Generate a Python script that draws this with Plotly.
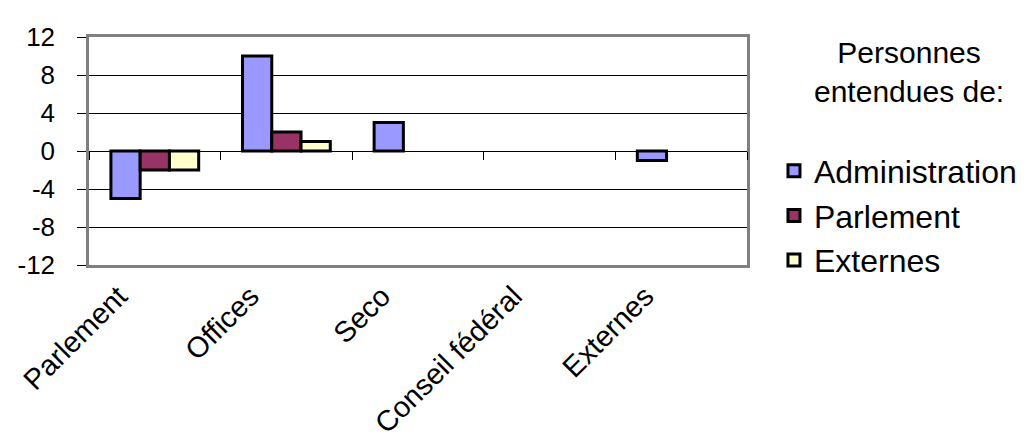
import plotly.graph_objects as go

categories = ["Parlement", "Offices", "Seco", "Conseil fédéral", "Externes"]
administration = [-5, 10, 3, 0, -1]
parlement = [-2, 2, 0, 0, 0]
externes = [-2, 1, 0, 0, 0]
series_names = ["Administration", "Parlement", "Externes"]
series_colors = ["#9999FF", "#993366", "#FFFFCC"]
y_ticks = [-12, -8, -4, 0, 4, 8, 12]
legend_title = "Personnes<br>entendues de:"

FONT = "Liberation Sans, Arial, sans-serif"
FS = 32
FS_T = 30
FS_X = 29
FS_Y = 26

fig = go.Figure()
for name, vals, col in zip(series_names, [administration, parlement, externes], series_colors):
    fig.add_trace(go.Bar(
        x=list(range(len(categories))), y=vals, name=name,
        marker=dict(color=col, line=dict(color="black",
                                         width=[0 if v == 0 else 3 for v in vals])),
        legendgroup=name,
    ))

fig.update_layout(
    width=1029, height=444,
    margin=dict(l=81, r=290, t=29, b=187, autoexpand=False),
    paper_bgcolor="white", plot_bgcolor="white",
    barmode="group", bargap=0.333, bargroupgap=0,
    font=dict(family=FONT, size=FS, color="black"),
    showlegend=True,
    legend=dict(x=1.041, xanchor="left", y=0.533, yanchor="top",
                font=dict(family=FONT, size=FS, color="black"),
                tracegroupgap=0, itemclick=False, bgcolor="rgba(0,0,0,0)"),
    xaxis=dict(
        range=[-0.5, 4.5], tickmode="array",
        tickvals=list(range(len(categories))), ticktext=categories,
        tickangle=-45, ticks="", showgrid=False, zeroline=False,
        showline=True, linecolor="#808080", linewidth=2.5, mirror=True,
        tickfont=dict(family=FONT, size=FS_X, color="black"),
        ticklabelshift=-36, ticklabeloverflow="allow",
    ),
    xaxis2=dict(
        overlaying="x", anchor="free", position=0.5, side="bottom",
        range=[-0.5, 4.5], tickmode="array",
        tickvals=[k - 0.5 for k in range(len(categories) + 1)],
        ticks="outside", ticklen=8, tickcolor="black", tickwidth=1,
        showticklabels=False, showgrid=False, zeroline=False, showline=False,
    ),
    yaxis=dict(
        range=[-12, 12], tickmode="array", tickvals=y_ticks,
        ticktext=[str(v) for v in y_ticks],
        ticks="outside", ticklen=9, tickcolor="black", tickwidth=1,
        showgrid=True, gridcolor="black", gridwidth=1,
        zeroline=True, zerolinecolor="black", zerolinewidth=1,
        showline=True, linecolor="#808080", linewidth=2.5, mirror=True,
        tickfont=dict(family=FONT, size=FS_Y, color="black"),
        ticklabelstandoff=17,
    ),
)

fig.add_trace(go.Scatter(x=[0], y=[0], xaxis="x2", mode="markers",
                         marker=dict(opacity=0), showlegend=False, hoverinfo="skip"))

fig.add_annotation(text=legend_title, xref="paper", yref="paper",
                   x=1.246, y=0.847, xanchor="center", yanchor="middle",
                   showarrow=False, font=dict(family=FONT, size=FS_T, color="black"))

fig.write_html("out.html")
